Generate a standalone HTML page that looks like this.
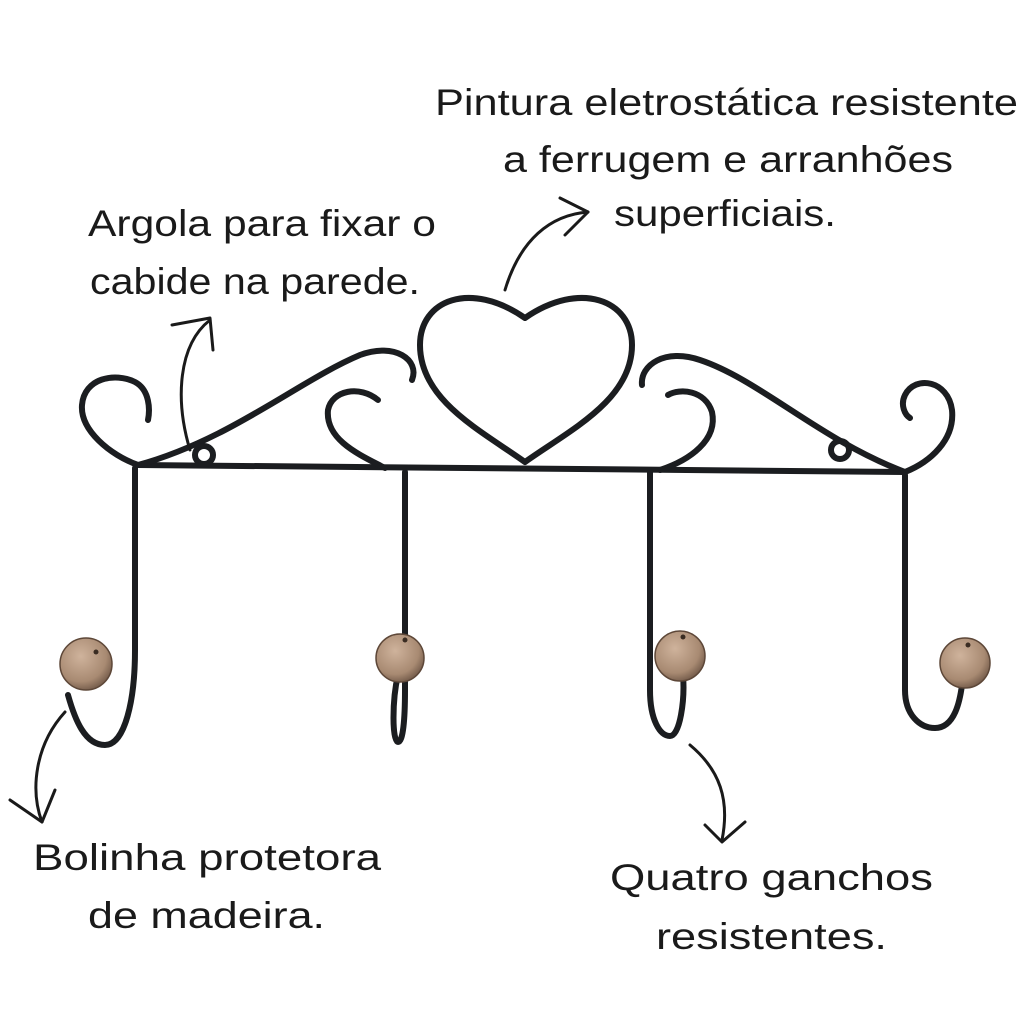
<!DOCTYPE html>
<html><head><meta charset="utf-8"><style>
html,body{margin:0;padding:0;background:#fff}
svg{display:block}
text{font-family:"Liberation Sans",sans-serif;font-size:37px;fill:#1a1a1a}
</style></head><body>
<svg width="1024" height="1024" viewBox="0 0 1024 1024" xmlns="http://www.w3.org/2000/svg">
<defs>
<radialGradient id="b" cx="0.4" cy="0.35" r="0.7"><stop offset="0" stop-color="#cfb39c"/><stop offset="0.7" stop-color="#a88a72"/><stop offset="1" stop-color="#6e5646"/></radialGradient>
</defs>
<text x="435" y="115" textLength="583" lengthAdjust="spacingAndGlyphs">Pintura eletrostática resistente</text>
<text x="503" y="172" textLength="450" lengthAdjust="spacingAndGlyphs">a ferrugem e arranhões</text>
<text x="614" y="226" textLength="222" lengthAdjust="spacingAndGlyphs">superficiais.</text>
<text x="88" y="236" textLength="348" lengthAdjust="spacingAndGlyphs">Argola para fixar o</text>
<text x="90" y="294" textLength="330" lengthAdjust="spacingAndGlyphs">cabide na parede.</text>
<text x="33" y="870" textLength="348" lengthAdjust="spacingAndGlyphs">Bolinha protetora</text>
<text x="88" y="928" textLength="237" lengthAdjust="spacingAndGlyphs">de madeira.</text>
<text x="610" y="890" textLength="323" lengthAdjust="spacingAndGlyphs">Quatro ganchos</text>
<text x="656" y="949" textLength="231" lengthAdjust="spacingAndGlyphs">resistentes.</text>

<g fill="none" stroke="#1b1d20" stroke-width="6" stroke-linecap="round" stroke-linejoin="round">
<!-- rail -->
<path d="M138 465 L905 472"/>
<!-- left outer curl -->
<path d="M138 465 C110 455 80 430 82 405 C84 378 115 372 135 382 C150 390 150 410 148 420"/>
<path d="M138 465 C230 440 300 380 360 355 C395 342 420 360 412 380"/>
<!-- left inner curl -->
<path d="M385 468 C360 455 325 440 328 410 C332 390 360 385 378 400"/>
<!-- right inner curl -->
<path d="M660 470 C690 460 718 440 712 412 C705 390 680 388 668 395"/>
<!-- right outer -->
<path d="M905 472 C820 440 760 380 700 360 C665 348 640 365 642 385"/>
<path d="M905 472 C930 462 955 440 952 410 C948 380 915 375 905 395 C900 405 905 415 910 418"/>
<!-- rings -->
<circle cx="204" cy="455" r="9"/>
<circle cx="840" cy="450" r="9"/>
<!-- heart -->
<path d="M525 462 C480 430 420 400 420 345 C420 300 470 280 525 318 C580 280 632 300 632 345 C632 400 570 430 525 462 Z"/>
<!-- hooks -->
<path d="M135 468 L135 650 C135 700 125 745 105 745 C85 745 75 720 68 695"/>
<path d="M405 472 L405 690 C405 720 403 742 398 742 C392 742 392 700 398 675"/>
<path d="M650 472 L650 690 C650 720 660 736 670 736 C680 736 685 700 683 675"/>
<path d="M905 475 L905 690 C905 715 920 728 935 728 C955 728 960 700 962 685"/>
</g>
<g stroke="#5d4738" stroke-width="1.5" fill="url(#b)">
<circle cx="86" cy="664" r="26"/>
<circle cx="400" cy="658" r="24"/>
<circle cx="680" cy="656" r="25"/>
<circle cx="965" cy="663" r="25"/>
</g>
<g fill="#3a2c22"><circle cx="96" cy="652" r="2.5"/><circle cx="405" cy="640" r="2.5"/><circle cx="683" cy="637" r="2.5"/><circle cx="968" cy="645" r="2.5"/></g>

<!-- arrows -->
<g fill="none" stroke="#1a1a1a" stroke-width="3" stroke-linecap="round" stroke-linejoin="round">
<path d="M190 450 C175 400 178 345 210 320"/><path d="M172 325 L210 318 L213 350"/>
<path d="M505 290 C520 240 550 215 588 212"/><path d="M560 198 L588 212 L565 235"/>
<path d="M65 712 C35 745 30 790 42 822"/><path d="M10 800 L42 822 L55 790"/>
<path d="M690 745 C720 770 730 800 722 840"/><path d="M705 825 L722 842 L745 822"/>
</g>
</svg>
</body></html>
